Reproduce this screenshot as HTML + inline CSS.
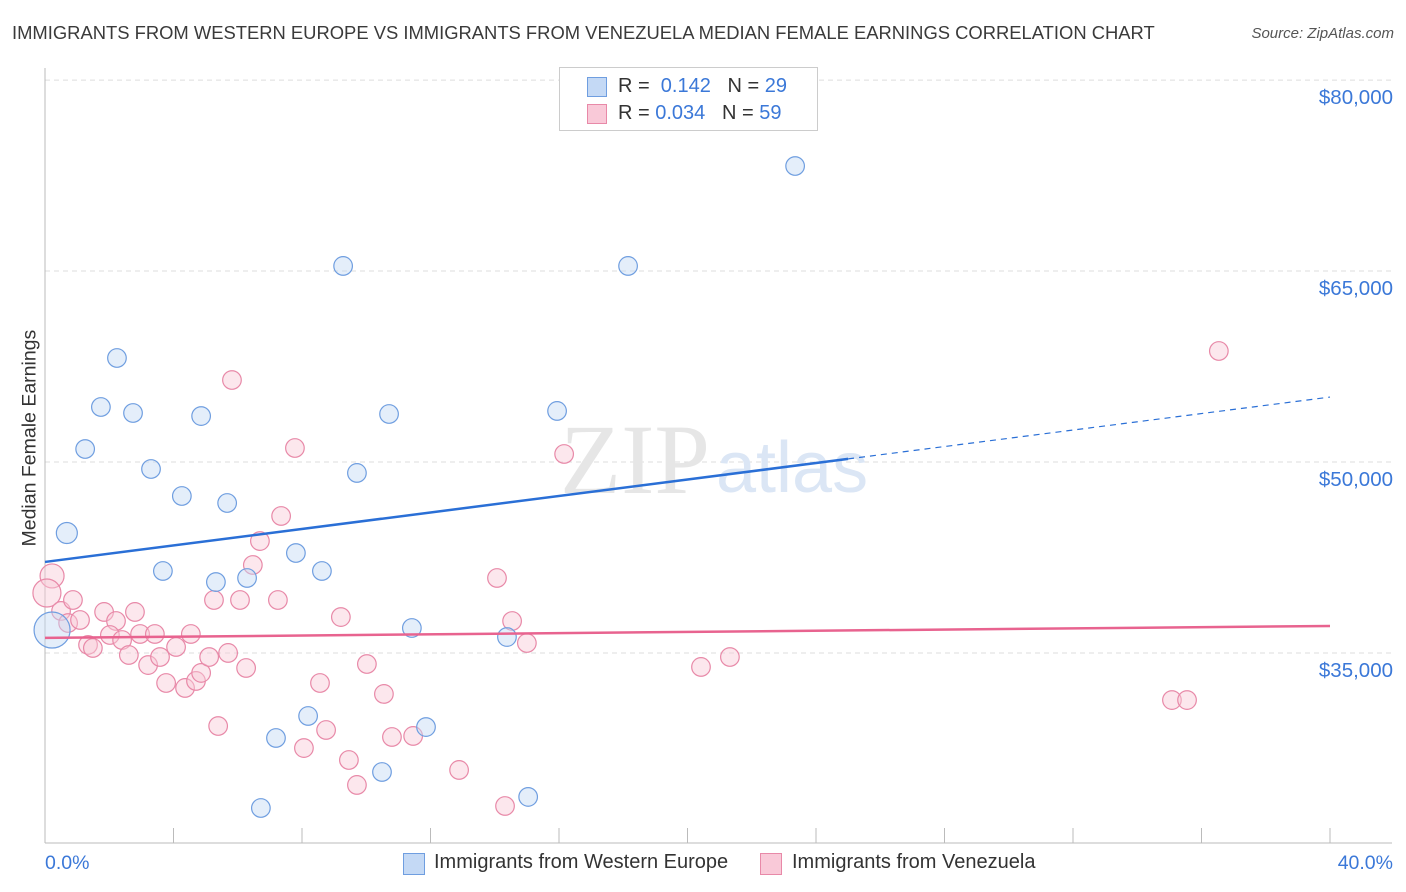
<!DOCTYPE html>
<html><head><meta charset="utf-8"><style>
body{margin:0;background:#fff;font-family:"Liberation Sans",sans-serif;}
#w{position:relative;width:1406px;height:892px;overflow:hidden;}
.t{position:absolute;white-space:nowrap;}
</style></head><body><div id="w">
<div class="t" style="left:12px;top:22px;font-size:18.4px;color:#3a3a3a;">IMMIGRANTS FROM WESTERN EUROPE VS IMMIGRANTS FROM VENEZUELA MEDIAN FEMALE EARNINGS CORRELATION CHART</div>
<div class="t" style="right:12px;top:25px;font-size:15px;color:#555;font-style:italic;">Source: ZipAtlas.com</div>
<svg id="s" width="1406" height="892" style="position:absolute;left:0;top:0"></svg>
</div>
<script>
const blueX=[2.24,1.74,1.25,2.74,3.30,4.86,4.26,5.67,0.68,3.67,5.32,6.29,7.81,8.62,9.28,9.71,10.71,18.15,23.35,15.94,11.42,14.38,8.19,7.19,11.86,10.49,6.72,15.04,0.22];
const blueY=[58170,54320,51020,53850,49450,53610,47330,46780,44420,41440,40570,40890,42850,41440,65400,49140,53770,65400,73250,54010,36960,36250,30050,28320,29180,25650,22820,23690,36800];
const pinkX=[0.22,0.06,0.50,0.87,0.72,1.09,1.34,1.49,1.84,2.21,2.02,2.40,2.61,2.80,2.96,3.21,3.42,3.58,3.77,4.08,4.36,4.54,4.70,4.86,5.11,5.26,5.39,5.70,5.82,6.07,6.26,6.47,6.69,7.25,7.35,7.78,8.06,8.56,8.75,9.21,9.46,9.71,10.02,10.55,10.80,11.46,12.89,14.07,14.32,14.54,15.00,16.16,20.42,21.32,35.08,35.55,36.54];
const pinkY=[41050,39710,38300,39160,37350,37590,35630,35390,38220,37510,36410,36020,34840,38220,36490,34050,36490,34680,32640,35470,32250,36490,32800,33430,34680,39160,29260,35000,56440,39160,33820,41910,43790,39160,45760,51100,27530,32640,28950,37820,26590,24630,34130,31780,28400,28480,25810,40890,22980,37510,35780,50630,33900,34680,31300,31300,58720];
const blueTrend=[42150,55100];
const pinkTrend=[36180,37120];
const yTicks=[80000,65000,50000,35000];
const yTickLabels=["$80,000","$65,000","$50,000","$35,000"];
const xS=p=>45+p*32.125;
const yS=v=>462-(v-50000)*0.01273;
const s=document.getElementById('s');const NS='http://www.w3.org/2000/svg';
function el(t,a,p){const e=document.createElementNS(NS,t);for(const k in a)e.setAttribute(k,a[k]);(p||s).appendChild(e);return e;}
yTicks.forEach((v,i)=>{
const g=el('line',{x1:45,x2:1392,y1:yS(v),y2:yS(v),stroke:'#ddd','stroke-dasharray':'5,4'});


const t=el('text',{x:1393,y:yS(v)+24,'text-anchor':'end','font-size':20.5,fill:'#3b78d8'});t.textContent=yTickLabels[i];


});
const ax=el('line',{x1:45,x2:45,y1:68,y2:843,stroke:'#bbb'});


const bx=el('line',{x1:45,x2:1392,y1:843,y2:843,stroke:'#bbb'});


for(let i=1;i<=10;i++){const tk=el('line',{x1:xS(i*4),x2:xS(i*4),y1:828,y2:843,stroke:'#bbb'});

}
const wm=el('text',{x:635,y:493,'text-anchor':'middle','font-size':100,fill:'#e6e6e6','font-family':'Liberation Serif'});wm.textContent='ZIP';


const wm2=el('text',{x:716,y:492,'font-size':72,fill:'#dbe6f5'});wm2.textContent='atlas';


function dot(x,y,r,c,f,n){const d=el('circle',{cx:xS(x),cy:yS(y),r:r,fill:f,stroke:c,'stroke-width':1.2,'fill-opacity':0.45});

}
pinkX.forEach((x,i)=>dot(x,pinkY[i],i==0?12:i==1?14:9.3,'#e889a8','#f9c9d8','pink-point'));
blueX.forEach((x,i)=>dot(x,blueY[i],i==28?18:i==8?10.5:9.3,'#6f9ee0','#c4d9f5','blue-point'));
const bm=blueTrend[0]+(blueTrend[1]-blueTrend[0])*25/40;
const bl=el('line',{x1:xS(0),y1:yS(blueTrend[0]),x2:xS(25),y2:yS(bm),stroke:'#2a6fd6','stroke-width':2.5});


const bd=el('line',{x1:xS(25),y1:yS(bm),x2:xS(40),y2:yS(blueTrend[1]),stroke:'#2a6fd6','stroke-width':1.2,'stroke-dasharray':'6,5'});


const pl=el('line',{x1:xS(0),y1:yS(pinkTrend[0]),x2:xS(40),y2:yS(pinkTrend[1]),stroke:'#e8638f','stroke-width':2.5});


</script>
<div class="t" style="left:-60px;top:445px;font-size:19.5px;color:#333;transform:rotate(-90deg);width:180px;text-align:center;">Median Female Earnings</div>
<div class="t" style="left:45px;top:852px;font-size:19.5px;color:#3b78d8;">0.0%</div>
<div class="t" style="right:13px;top:852px;font-size:19.5px;color:#3b78d8;">40.0%</div>
<div style="position:absolute;left:559px;top:67px;width:257px;height:62px;border:1px solid #ccc;background:#fff;font-size:20px;color:#333;">
<div style="position:absolute;left:27px;top:9px;width:18px;height:18px;background:#c4d9f5;border:1px solid #6f9ee0"></div>
<div class="t" style="left:58px;top:7px">R = &nbsp;<span style="color:#3b78d8">0.142</span> &nbsp;&nbsp;N = <span style="color:#3b78d8">29</span></div>
<div style="position:absolute;left:27px;top:36px;width:18px;height:18px;background:#f9c9d8;border:1px solid #e889a8"></div>
<div class="t" style="left:58px;top:34px">R = <span style="color:#3b78d8">0.034</span> &nbsp;&nbsp;N = <span style="color:#3b78d8">59</span></div>
</div>
<div style="position:absolute;left:403px;top:853px;width:20px;height:20px;background:#c4d9f5;border:1px solid #6f9ee0"></div>
<div class="t" style="left:434px;top:851px;font-size:20px;color:#333;">Immigrants from Western Europe</div>
<div style="position:absolute;left:760px;top:853px;width:20px;height:20px;background:#f9c9d8;border:1px solid #e889a8"></div>
<div class="t" style="left:792px;top:851px;font-size:20px;color:#333;">Immigrants from Venezuela</div>
</body></html>
